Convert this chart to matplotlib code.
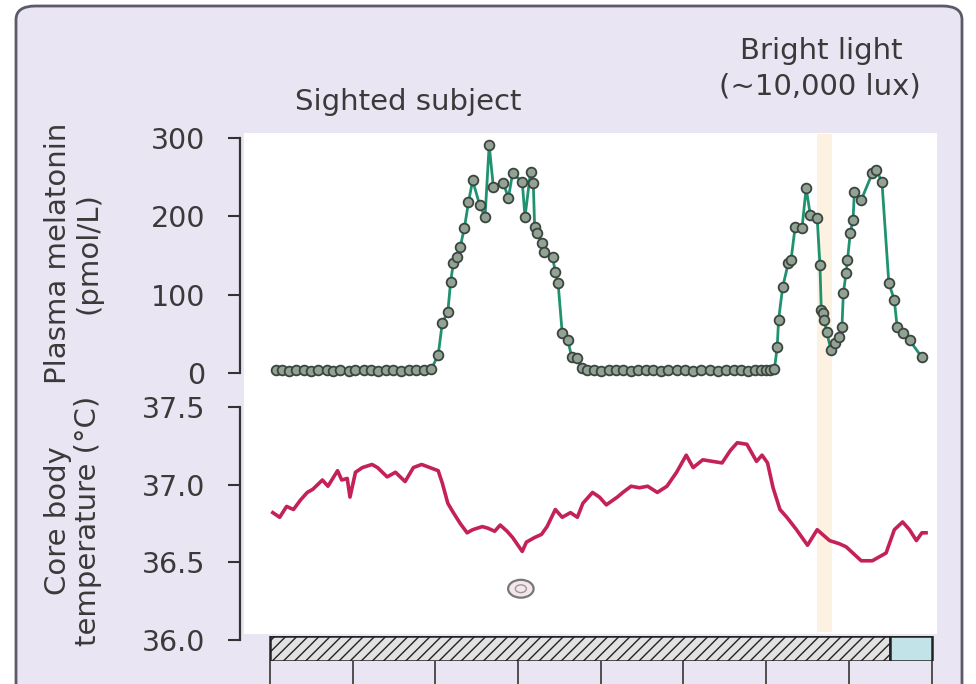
import numpy as np
import matplotlib
matplotlib.use("Agg")
import matplotlib.pyplot as plt
from matplotlib.patches import Rectangle, FancyBboxPatch, Ellipse
import matplotlib.transforms as mtransforms

plt.rcParams['font.family'] = ['DejaVu Sans']
plt.rcParams['hatch.color'] = '#5e5e5e'
plt.rcParams['hatch.linewidth'] = 1.0

# ---------------- data ----------------
# melatonin sampling times (hours) and values (pmol/L)
mel_t = [0.4, 0.9, 1.4, 1.9, 2.5, 3.0, 3.5, 4.1, 4.6, 5.1, 5.7, 6.2, 6.8, 7.3, 7.8, 8.4, 8.9, 9.5,
         10.1, 10.6, 11.2, 11.7,
         12.2, 12.5, 12.9, 13.1, 13.3, 13.6, 13.8, 14.1, 14.4, 14.7, 15.2, 15.6, 15.9, 16.2, 16.9,
         17.3, 17.6, 18.3, 18.5, 18.9, 19.1, 19.2, 19.4, 19.7, 19.9, 20.5, 20.7, 20.9, 21.2, 21.6,
         21.9, 22.3, 22.6,
         23.0, 23.5, 24.0, 24.6, 25.1, 25.6, 26.2, 26.7, 27.3, 27.8, 28.4, 28.9, 29.5, 30.1, 30.7,
         31.3, 31.9, 32.5, 33.1, 33.7, 34.2, 34.7, 35.2, 35.6, 36.0, 36.3,
         36.6, 36.8, 36.9, 37.2, 37.6, 37.8, 38.1, 38.6, 38.9, 39.2, 39.7, 39.9, 40.0, 40.1, 40.2,
         40.4, 40.7, 41.0, 41.3, 41.5, 41.6, 41.8, 41.9, 42.1, 42.3, 42.4, 42.9, 43.7, 44.0, 44.4,
         44.9, 45.3, 45.5, 45.9, 46.4, 47.3]
mel_v = [4, 4, 3, 4, 4, 3, 4, 4, 3, 4, 3, 4, 4, 4, 3, 4, 4, 3, 4, 4, 4, 5,
         23, 64, 78, 116, 140, 148, 161, 185, 218, 246, 215, 199, 291, 238, 243,
         224, 255, 244, 199, 257, 243, 186, 179, 166, 155, 148, 129, 115, 51, 42,
         20, 19, 6,
         4, 4, 3, 4, 4, 4, 3, 4, 4, 4, 3, 4, 4, 4, 3,
         4, 4, 3, 4, 4, 4, 3, 4, 4, 4, 4,
         5, 33, 68, 110, 140, 144, 186, 185, 236, 202, 198, 138, 80, 77, 68,
         52, 29, 38, 46, 59, 102, 128, 144, 179, 195, 231, 221, 255, 259, 244,
         115, 93, 59, 51, 42, 20]

# core body temperature (hours, deg C)
temp_t = [0.2, 0.7, 1.2, 1.7, 2.2, 2.7, 3.1, 3.8, 4.2, 4.9, 5.2, 5.6, 5.8, 6.2, 6.7, 7.4, 7.8,
          8.5, 9.1, 9.8, 10.4, 11.0, 11.6, 12.2, 12.5, 12.9, 13.3, 13.8, 14.3, 14.7, 15.4, 15.8,
          16.3, 16.7, 17.2, 17.6, 18.3, 18.6, 19.2, 19.7, 20.1, 20.7, 21.2, 21.8, 22.3, 22.7,
          23.4, 23.9, 24.4, 25.2, 25.6, 26.2,
          26.8, 27.4, 28.1, 28.8, 29.5, 30.2, 30.7, 31.4, 32.1, 32.8, 33.4, 33.9, 34.6, 35.3,
          35.7, 36.1, 36.5, 37.0, 37.5, 38.2, 39.0, 39.7, 40.6, 41.3, 41.8, 42.9, 43.7, 44.7,
          45.3, 45.9, 46.4, 46.9, 47.3, 47.6]
temp_v = [36.82, 36.79, 36.86, 36.84, 36.90, 36.95, 36.97, 37.03, 36.99, 37.09, 37.03, 37.04,
          36.92, 37.08, 37.11, 37.13, 37.11, 37.05, 37.08, 37.02, 37.11, 37.13, 37.11, 37.09,
          37.01, 36.88, 36.82, 36.75, 36.69, 36.71, 36.73, 36.72, 36.70, 36.74, 36.70, 36.66,
          36.57, 36.63, 36.66, 36.68, 36.73, 36.84, 36.79, 36.82, 36.79, 36.88, 36.95, 36.92,
          36.87, 36.92, 36.95, 36.99,
          36.98, 36.99, 36.95, 36.99, 37.08, 37.19, 37.11, 37.16, 37.15, 37.14, 37.22, 37.27,
          37.26, 37.15, 37.19, 37.14, 36.98, 36.84, 36.79, 36.71, 36.61, 36.71, 36.64, 36.62,
          36.60, 36.51, 36.51, 36.56, 36.71, 36.76, 36.71, 36.64, 36.69, 36.69]

mel_ticks = [0, 100, 200, 300]
temp_ticks = [36.0, 36.5, 37.0, 37.5]
temp_ticklabels = ["36.0", "36.5", "37.0", "37.5"]
time_ticks = [0, 6, 12, 18, 24, 30, 36, 42, 48]
sleep_dark = (0.0, 44.95)      # hatched bar (hours)
light_span = (44.95, 48.0)     # light-blue bar (hours)
bright_light = (39.7, 40.8)    # bright-light exposure (hours)
temp_min = (18.2, 36.33)       # temperature minimum marker

# ---------------- figure ----------------
W, H = 976, 684
fig = plt.figure(figsize=(W / 100, H / 100), dpi=100)
fig.patch.set_facecolor('white')

def fx(px):
    return px / W

def fy(py):
    return 1 - py / H

lav = '#e9e5f2'
box = FancyBboxPatch((fx(16), fy(720)), fx(962) - fx(16), fy(6) - fy(720),
                     boxstyle="round,pad=0,rounding_size=0.02",
                     transform=fig.transFigure, facecolor=lav, edgecolor='#5c5a68',
                     linewidth=2.0, zorder=0)
fig.patches.append(box)
white = Rectangle((fx(244), fy(634)), fx(937) - fx(244), fy(133) - fy(634),
                  transform=fig.transFigure, facecolor='white', edgecolor='none', zorder=0.5)
fig.patches.append(white)

xl = (-2.18, 48.25)
axL, axR = fx(240), fx(935)
ax1 = fig.add_axes([axL, fy(373), axR - axL, fy(138) - fy(373)])
ax2 = fig.add_axes([axL, fy(640), axR - axL, fy(407) - fy(640)])
ax3 = fig.add_axes([axL, fy(661), axR - axL, fy(636) - fy(661)])

text_col = '#3a3a3a'
for ax in (ax1, ax2, ax3):
    ax.set_zorder(2)
    ax.set_xlim(*xl)
    ax.patch.set_alpha(0)
    for s in ('top', 'right', 'bottom'):
        ax.spines[s].set_visible(False)

# bright light band
trans = mtransforms.blended_transform_factory(ax1.transData, fig.transFigure)
fig.patches.append(Rectangle((bright_light[0], fy(632)), bright_light[1] - bright_light[0],
                             fy(134) - fy(632), transform=trans, facecolor='#fdf2e2',
                             edgecolor='none', zorder=0.6))

# melatonin
ax1.plot(mel_t, mel_v, color='#1f9270', lw=2.0, zorder=3, clip_on=False)
ax1.plot(mel_t, mel_v, ls='none', marker='o', ms=7, mfc='#93a393', mec='#3a4540', mew=1.3,
         zorder=4, clip_on=False)
ax1.set_ylim(0, 300)
ax1.set_yticks(mel_ticks)
ax1.set_xticks([])

# temperature
ax2.plot(temp_t, temp_v, color='#c4215a', lw=2.6, zorder=3, clip_on=False)
ax2.set_ylim(36.0, 37.5)
ax2.set_yticks(temp_ticks)
ax2.set_yticklabels(temp_ticklabels)
ax2.set_xticks([])
ax2.add_patch(Ellipse(temp_min, 1.85, 0.115, facecolor='#f4e6ec', edgecolor='#777777',
                      lw=1.6, zorder=4, clip_on=False))
ax2.add_patch(Ellipse(temp_min, 0.8, 0.05, facecolor='none', edgecolor='#999999',
                      lw=1.0, zorder=5, clip_on=False))

for ax in (ax1, ax2):
    ax.spines['left'].set_color('#333333')
    ax.spines['left'].set_linewidth(1.6)
    ax.tick_params(axis='y', length=9, width=1.5, color='#333333', labelsize=20.5,
                   labelcolor=text_col, pad=16)

# y labels
fig.text(fx(73), fy(253), "Plasma melatonin\n(pmol/L)", fontsize=21, color=text_col,
         rotation=90, ha='center', va='center', multialignment='center', linespacing=1.1)
fig.text(fx(73), fy(521), "Core body\ntemperature (\u00b0C)", fontsize=21, color=text_col,
         rotation=90, ha='center', va='center', multialignment='center', linespacing=1.1)

# bottom bar
ax3.spines['left'].set_visible(False)
ax3.set_ylim(0, 1)
ax3.set_yticks([])
ax3.add_patch(Rectangle((sleep_dark[0], 0), sleep_dark[1] - sleep_dark[0], 1,
                        facecolor='#e2e2e2', edgecolor='#222222', hatch='///', lw=1.8))
ax3.add_patch(Rectangle((light_span[0], 0), light_span[1] - light_span[0], 1,
                        facecolor='#c2e4e8', edgecolor='#222222', lw=1.8))
ax3.set_xticks(time_ticks)
ax3.set_xticklabels([])
ax3.tick_params(axis='x', length=22, width=1.3, color='#444444', direction='out')

fig.text(fx(408), fy(110), "Sighted subject", fontsize=21, color=text_col, ha='center',
         va='baseline')
fig.text(fx(821), fy(59), "Bright light", fontsize=21, color=text_col, ha='center',
         va='baseline')
fig.text(fx(820), fy(94), "(~10,000 lux)", fontsize=21, color=text_col, ha='center',
         va='baseline')

fig.savefig("out.png", dpi=100)
